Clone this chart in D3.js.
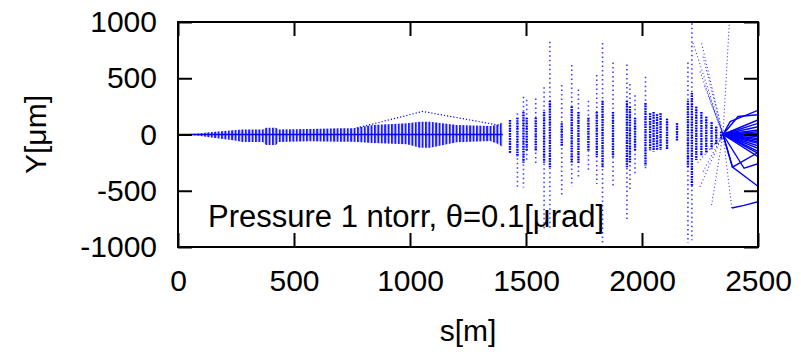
<!DOCTYPE html>
<html>
<head>
<meta charset="utf-8">
<script src="https://cdn.jsdelivr.net/npm/d3@7"></script>
<style>
  body { margin: 0; background: #fff; }
  svg { display: block; font-family: "Liberation Sans", Arial, sans-serif; }
</style>
</head>
<body>
<svg width="801" height="352"></svg>
<script>
// tick values
const xTicks = [0, 500, 1000, 1500, 2000, 2500];
const yTicks = [-1000, -500, 0, 500, 1000];

// envelope of the early section (s in m, upper / lower edge in um)
const envS   = [0, 40, 90, 134, 237, 280, 366, 380, 422, 435, 565, 700, 755, 840, 987, 1043, 1086, 1202, 1345, 1375, 1400];
const envTop = [0, 5, 10, 20, 37, 44, 44, 60, 60, 44, 50, 55, 55, 84, 100, 114, 114, 84, 75, 85, 110];
const envBot = [0, -5, -10, -25, -52, -66, -66, -93, -93, -66, -60, -64, -64, -76, -87, -117, -117, -68, -57, -80, -110];

// outer trajectory over the bump around 1 km
const bumpS = [770, 1055, 1390];
const bumpY = [58, 205, 80];

// scattered columns after 1400 m: full extent and dense core
const colS   = [1431, 1463, 1489, 1503, 1542, 1578, 1603, 1654, 1697, 1726, 1769, 1805, 1830, 1875, 1935, 1948, 1970, 2015, 2035, 2050, 2065, 2080, 2108, 2151, 2198, 2215, 2234, 2256, 2277, 2300, 2320, 2341];
const colHi  = [130, 190, 335, 310, 320, 420, 825, 440, 618, 400, 300, 530, 813, 640, 622, 450, 350, 514, 190, 200, 180, 190, 140, 100, 640, 990, 247, 200, 158, 110, 69, 25];
const colLo  = [-165, -470, -470, -250, -260, -850, -850, -553, -464, -400, -330, -440, -965, -467, -755, -500, -370, -315, -140, -150, -140, -138, -138, -60, -965, -940, -227, -190, -167, -130, -93, -49];
const coreHi = [130, 150, 200, 150, 150, 200, 300, 100, 250, 200, 150, 200, 300, 200, 300, 250, 150, 280, 190, 200, 180, 190, 140, 100, 300, 370, 247, 200, 158, 110, 69, 25];
const coreLo = [-165, -200, -250, -150, -150, -250, -300, -100, -250, -250, -150, -200, -300, -200, -300, -250, -150, -280, -140, -150, -140, -138, -138, -60, -300, -465, -227, -190, -167, -130, -93, -49];

// dotted rays running into the focus
const focusS = 2349;
const rayS = [2220, 2257, 2263, 2250, 2270, 2290, 2376, 2250, 2263, 2300, 2240, 2387];
const rayY = [813, 810, 692, 560, 430, 330, 975, -464, -330, -627, -250, -653];

// solid lines leaving the focus, value at 2500 m
const fanEndY = [129, 99, 69, 40, 25, 10, -5, -19, -35, -49, -64, -78, -100, -123, -150, -167, -197];

// kinked solid lines: start, middle point, value at 2500 m
const kinkS0 = [2349, 2349, 2349, 2349, 2349, 2387];
const kinkY0 = [0, 0, 0, 0, 0, -653];
const kinkS  = [2380, 2414, 2390, 2390, 2440, 2440];
const kinkY  = [115, 160, -290, -290, -300, -630];
const kinkEndY = [215, 175, -460, -160, -260, -597];

const svg = d3.select('svg');
const x = d3.scaleLinear().domain([0, 2500]).range([178, 758]);
const y = d3.scaleLinear().domain([-1000, 1000]).range([247, 22]);
const blue = '#0000ff';

const defs = svg.append('defs');
defs.append('clipPath').attr('id', 'clip')
  .append('rect')
  .attr('x', x(0)).attr('y', y(1000))
  .attr('width', x(2500) - x(0)).attr('height', y(-1000) - y(1000));
const pat = defs.append('pattern')
  .attr('id', 'stripes')
  .attr('patternUnits', 'userSpaceOnUse')
  .attr('width', 3.4).attr('height', 4);
pat.append('rect').attr('width', 2).attr('height', 4).attr('fill', blue);

// annotation
svg.append('text')
  .attr('x', 208).attr('y', 227)
  .attr('font-size', 31)
  .text('Pressure 1 ntorr, \u03b8=0.1[\u03bcrad]');

const plot = svg.append('g').attr('clip-path', 'url(#clip)');

// early envelope
const env = envS.map((s, i) => ({ s: s, hi: envTop[i], lo: envBot[i] }));
plot.append('path')
  .datum(env)
  .attr('d', d3.area().x((d) => x(d.s)).y0((d) => y(d.lo)).y1((d) => y(d.hi)))
  .attr('fill', 'url(#stripes)')
  .attr('opacity', 0.9);
plot.append('path')
  .datum(env)
  .attr('d', d3.line().x((d) => x(d.s)).y(() => y(0)))
  .attr('stroke', blue).attr('stroke-width', 1.5).attr('fill', 'none');

// bump trajectory
plot.append('path')
  .datum(bumpS.map((s, i) => [s, bumpY[i]]))
  .attr('d', d3.line().x((d) => x(d[0])).y((d) => y(d[1])))
  .attr('fill', 'none').attr('stroke', blue)
  .attr('stroke-width', 1.2).attr('stroke-dasharray', '1.2,2');

// columns
const cols = colS.map((s, i) => ({ s: s, hi: colHi[i], lo: colLo[i], chi: coreHi[i], clo: coreLo[i] }));
plot.selectAll('.outer')
  .data(cols)
  .enter()
  .append('line')
  .attr('class', 'outer')
  .attr('x1', (d) => x(d.s)).attr('x2', (d) => x(d.s))
  .attr('y1', (d) => y(d.hi)).attr('y2', (d) => y(d.lo))
  .attr('stroke', blue).attr('stroke-width', 1.6)
  .attr('stroke-dasharray', '1.5,3').attr('opacity', 0.75);
plot.selectAll('.core')
  .data(cols)
  .enter()
  .append('line')
  .attr('class', 'core')
  .attr('x1', (d) => x(d.s)).attr('x2', (d) => x(d.s))
  .attr('y1', (d) => y(d.chi)).attr('y2', (d) => y(d.clo))
  .attr('stroke', blue).attr('stroke-width', 2.4)
  .attr('stroke-dasharray', '1.6,1');

// dotted rays into focus
plot.selectAll('.ray')
  .data(rayS.map((s, i) => [s, rayY[i]]))
  .enter()
  .append('line')
  .attr('class', 'ray')
  .attr('x1', (d) => x(d[0])).attr('y1', (d) => y(d[1]))
  .attr('x2', x(focusS)).attr('y2', y(0))
  .attr('stroke', blue).attr('stroke-width', 1.1)
  .attr('stroke-dasharray', '1,2.5').attr('opacity', 0.8);

// solid fan after the focus
plot.selectAll('.fan')
  .data(fanEndY)
  .enter()
  .append('line')
  .attr('class', 'fan')
  .attr('x1', x(focusS)).attr('y1', y(0))
  .attr('x2', x(2500)).attr('y2', (d) => y(d))
  .attr('stroke', blue).attr('stroke-width', 1.4);

const kinks = kinkS.map((s, i) => [[kinkS0[i], kinkY0[i]], [s, kinkY[i]], [2500, kinkEndY[i]]]);
plot.selectAll('.kink')
  .data(kinks)
  .enter()
  .append('path')
  .attr('class', 'kink')
  .attr('d', d3.line().x((d) => x(d[0])).y((d) => y(d[1])))
  .attr('fill', 'none').attr('stroke', blue).attr('stroke-width', 1.4);

// axes with inward ticks on all four sides
const tick = 14;
const fontSize = 30;
const fmt = (d) => String(d);
const styleAxis = (g) => {
  g.select('.domain').remove();
  g.selectAll('line').attr('stroke', '#000').attr('stroke-width', 2);
  g.selectAll('text').attr('font-size', fontSize).attr('fill', '#000')
    .attr('font-family', '"Liberation Sans", Arial, sans-serif');
};
svg.append('g')
  .attr('transform', `translate(0,${y(-1000)})`)
  .call(d3.axisBottom(x).tickValues(xTicks).tickFormat(fmt).tickSizeInner(-tick).tickSizeOuter(0).tickPadding(23))
  .call(styleAxis);
svg.append('g')
  .attr('transform', `translate(0,${y(1000)})`)
  .call(d3.axisTop(x).tickValues(xTicks).tickSizeInner(-tick).tickSizeOuter(0).tickFormat(''))
  .call(styleAxis);
svg.append('g')
  .attr('transform', `translate(${x(0)},0)`)
  .call(d3.axisLeft(y).tickValues(yTicks).tickFormat(fmt).tickSizeInner(-tick).tickSizeOuter(0).tickPadding(21))
  .call(styleAxis);
svg.append('g')
  .attr('transform', `translate(${x(2500)},0)`)
  .call(d3.axisRight(y).tickValues(yTicks).tickSizeInner(-tick).tickSizeOuter(0).tickFormat(''))
  .call(styleAxis);

// frame
svg.append('rect')
  .attr('x', x(0)).attr('y', y(1000))
  .attr('width', x(2500) - x(0)).attr('height', y(-1000) - y(1000))
  .attr('fill', 'none').attr('stroke', '#000').attr('stroke-width', 2);

// axis titles
svg.append('text')
  .attr('x', (x(0) + x(2500)) / 2).attr('y', 341)
  .attr('text-anchor', 'middle').attr('font-size', fontSize)
  .text('s[m]');
svg.append('text')
  .attr('transform', `translate(46,${y(0)}) rotate(-90)`)
  .attr('text-anchor', 'middle').attr('font-size', fontSize)
  .text('Y[\u03bcm]');
</script>
</body>
</html>
